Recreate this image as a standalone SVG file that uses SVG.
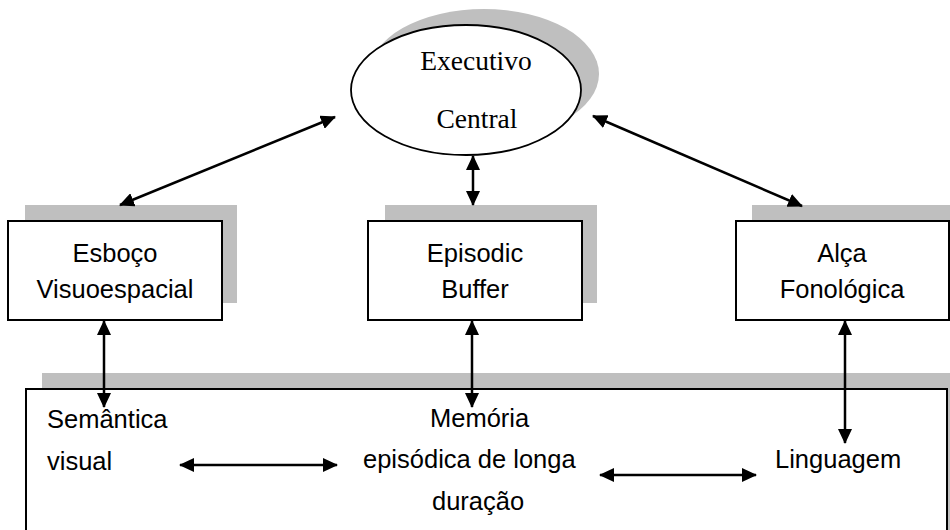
<svg xmlns="http://www.w3.org/2000/svg" width="950" height="530" viewBox="0 0 950 530">
<style>
.sh{fill:#bfbfbf;stroke:none}
.bx{fill:#fff;stroke:#000;stroke-width:2}
.t{font-family:"Liberation Sans",Arial,sans-serif;font-size:25.5px;fill:#000}
.tm{text-anchor:middle}
.ts{font-family:"Liberation Serif","Times New Roman",serif;font-size:27.5px;fill:#000;text-anchor:middle}
.c{stroke:#000;stroke-width:2.5;fill:none;marker-start:url(#a);marker-end:url(#a)}
</style>
<defs>
<marker id="a" viewBox="0 0 15 14" refX="14" refY="7" markerWidth="15" markerHeight="14" markerUnits="userSpaceOnUse" orient="auto-start-reverse">
<path d="M0,0 L15,7 L0,14 Z" fill="#000"/>
</marker>
</defs>
<rect width="950" height="530" fill="#fff"/>
<g id="memoria">
<rect class="sh" x="42" y="373" width="920" height="180"/>
<rect class="bx" x="26" y="389" width="921" height="160"/>
<text class="t" x="47" y="428">Semântica</text>
<text class="t" x="47" y="470">visual</text>
<text class="t" x="430" y="427">Memória</text>
<text class="t" x="363" y="468">episódica de longa</text>
<text class="t" x="432" y="510">duração</text>
<text class="t" x="775" y="468">Linguagem</text>
</g>
<g id="executivo">
<ellipse class="sh" cx="484" cy="74" rx="115" ry="65"/>
<ellipse cx="466" cy="90" rx="115" ry="65" fill="#fff" stroke="#000" stroke-width="1.8"/>
<text class="ts" x="476" y="70">Executivo</text>
<text class="ts" x="477" y="128">Central</text>
</g>
<g id="esboco">
<rect class="sh" x="25" y="205" width="212" height="98"/>
<rect class="bx" x="8" y="221" width="214" height="99"/>
<text class="t tm" x="115" y="262">Esboço</text>
<text class="t tm" x="115" y="298">Visuoespacial</text>
</g>
<g id="buffer">
<rect class="sh" x="385" y="205" width="212" height="98"/>
<rect class="bx" x="368" y="221" width="214" height="99"/>
<text class="t tm" x="475" y="262">Episodic</text>
<text class="t tm" x="475" y="298">Buffer</text>
</g>
<g id="alca">
<rect class="sh" x="752" y="205" width="220" height="98"/>
<rect class="bx" x="736" y="221" width="213" height="99"/>
<text class="t tm" x="842" y="262">Alça</text>
<text class="t tm" x="842" y="298">Fonológica</text>
</g>
<g id="connectors">
<line class="c" x1="120" y1="205" x2="335" y2="117"/>
<line class="c" x1="473" y1="156" x2="473" y2="205"/>
<line class="c" x1="593" y1="116" x2="802" y2="206"/>
<line class="c" x1="104" y1="321" x2="104" y2="407"/>
<line class="c" x1="472" y1="321" x2="472" y2="407"/>
<line class="c" x1="845" y1="321" x2="845" y2="443"/>
<line class="c" x1="180" y1="465" x2="337" y2="465"/>
<line class="c" x1="600" y1="475" x2="756" y2="475"/>
</g>
</svg>
